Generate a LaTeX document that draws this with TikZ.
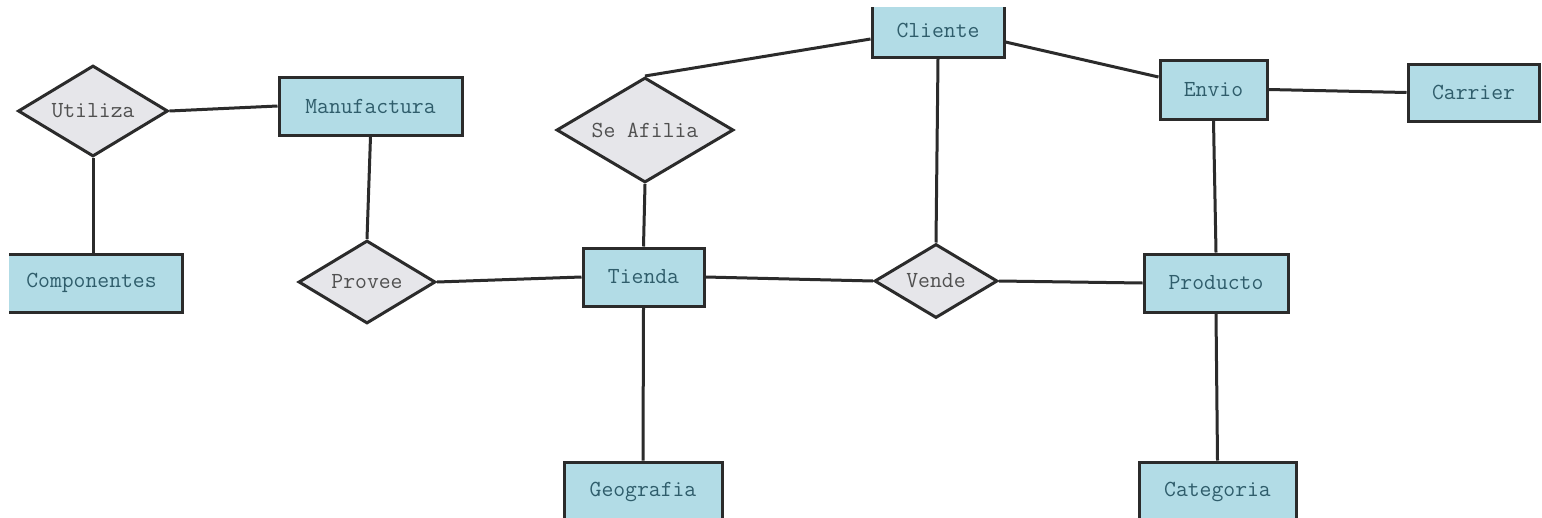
\documentclass[tikz,border=0pt]{standalone}
\usepackage{fontspec}
\usetikzlibrary{shapes.geometric,calc}
\definecolor{entfill}{HTML}{B2DCE6}
\definecolor{relfill}{HTML}{E6E6EA}
\definecolor{edgec}{HTML}{2B2B2B}
\definecolor{enttext}{HTML}{2F5D6B}
\definecolor{reltext}{HTML}{505050}
\tikzset{
  lbl/.style={font=\ttfamily\fontsize{23}{26}\selectfont},
  entity/.style={lbl, draw=edgec, line width=3pt, fill=entfill, text=enttext, inner sep=0pt},
  relation/.style={lbl, diamond, aspect=1.65, draw=edgec, line width=3pt, fill=relfill, text=reltext, inner sep=0pt},
  link/.style={draw=edgec, line width=3pt}
}
\begin{document}
\begin{tikzpicture}[x=1pt,y=-1pt]
\useasboundingbox (0,0) rectangle (1542,517);
\fill[white] (0,0) rectangle (1542,517);
\clip (9,7) rectangle (1542,517);
% entities
\node[entity, minimum width=183pt, minimum height=58pt] (manufactura) at (370.5,106) {Manufactura};
\node[entity, minimum width=181pt, minimum height=58pt] (componentes) at (91.5,283) {Componentes};
\node[entity, minimum width=132pt, minimum height=54pt] (cliente) at (938,30) {Cliente};
\node[entity, minimum width=107pt, minimum height=59pt] (envio) at (1213.5,89.5) {Envio};
\node[entity, minimum width=131pt, minimum height=57pt] (carrier) at (1473.5,92.5) {Carrier};
\node[entity, minimum width=121pt, minimum height=58pt] (tienda) at (643.5,277) {Tienda};
\node[entity, minimum width=144pt, minimum height=58pt] (producto) at (1216,283) {Producto};
\node[entity, minimum width=158pt, minimum height=60pt] (geografia) at (643,492) {Geografia};
\node[entity, minimum width=157pt, minimum height=60pt] (categoria) at (1217.5,492) {Categoria};
% relationships
\node[relation, minimum width=150pt, minimum height=91pt] (utiliza) at (93,111) {Utiliza};
\node[relation, minimum width=177pt, minimum height=105pt] (seafilia) at (645,130) {Se Afilia};
\node[relation, minimum width=137pt, minimum height=83pt] (provee) at (367,282) {Provee};
\node[relation, minimum width=123pt, minimum height=74pt] (vende) at (936,281) {Vende};
% connectors
\draw[link] (seafilia.north) -- ([yshift=-9pt]cliente.west);
\draw[link] ([yshift=-12pt]cliente.east) -- ([yshift=12.5pt]envio.west);
\draw[link] (envio.east) -- (carrier.west);
\draw[link] (envio.south) -- (producto.north);
\draw[link] (cliente.south) -- (vende.north);
\draw[link] (utiliza.east) -- (manufactura.west);
\draw[link] (utiliza.south) -- (utiliza.south |- componentes.north);
\draw[link] (manufactura.south) -- (provee.north);
\draw[link] (provee.east) -- (tienda.west);
\draw[link] (seafilia.south) -- (tienda.north);
\draw[link] (tienda.east) -- (vende.west);
\draw[link] (vende.east) -- (producto.west);
\draw[link] (tienda.south) -- (geografia.north);
\draw[link] (producto.south) -- (categoria.north);
\end{tikzpicture}
\end{document}
